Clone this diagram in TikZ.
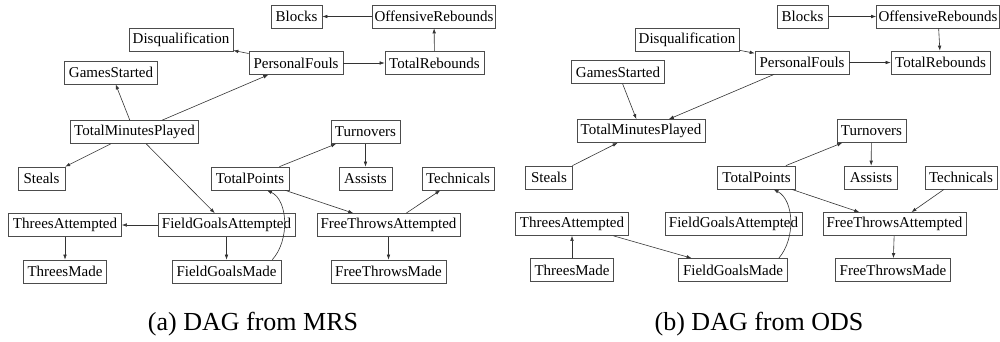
\documentclass[tikz,border=0pt]{standalone}
\usepackage{fontspec}
\setmainfont{Liberation Serif}
\newfontfamily\tnr{Liberation Serif}
\usetikzlibrary{arrows.meta}
\tikzset{
  box/.style={draw=black!70, line width=0.7pt, rectangle, minimum height=23pt, inner xsep=2pt, inner ysep=0pt, font=\tnr\fontsize{15}{17}\selectfont, text=black},
  edge/.style={draw=black!80, line width=0.6pt, -{Latex[length=5pt,width=3.6pt]}},
  captext/.style={font=\tnr\fontsize{26}{28}\selectfont, text=black, anchor=base, inner sep=0pt}
}
\begin{document}
\begin{tikzpicture}[x=1pt,y=-1pt]
\useasboundingbox (0,0) rectangle (1000,341);
% ---------- panel (a)
\node[box,minimum width=51pt]  (aBL)  at (296.5,16.5) {Blocks};
\node[box,minimum width=122pt] (aOR)  at (434,16.5) {OffensiveRebounds};
\node[box,minimum width=104pt] (aDQ)  at (181,40) {Disqualification};
\node[box,minimum width=94pt]  (aPF)  at (296,63) {PersonalFouls};
\node[box,minimum width=99pt]  (aTR)  at (434.5,63) {TotalRebounds};
\node[box,minimum width=93pt]  (aGS)  at (111,72.5) {GamesStarted};
\node[box,minimum width=128pt] (aTMP) at (134.5,132) {TotalMinutesPlayed};
\node[box,minimum width=69pt]  (aTO)  at (365.5,132) {Turnovers};
\node[box,minimum width=47pt]  (aST)  at (41.5,178.5) {Steals};
\node[box,minimum width=78pt]  (aTP)  at (250,178.5) {TotalPoints};
\node[box,minimum width=53pt]  (aAS)  at (365.5,178.5) {Assists};
\node[box,minimum width=72pt]  (aTE)  at (458,178.5) {Technicals};
\node[box,minimum width=113pt] (aTA)  at (65,225) {ThreesAttempted};
\node[box,minimum width=137pt] (aFGA) at (226.5,225) {FieldGoalsAttempted};
\node[box,minimum width=143pt] (aFTA) at (388.5,225) {FreeThrowsAttempted};
\node[box,minimum width=83pt]  (aTM)  at (65,271.5) {ThreesMade};
\node[box,minimum width=109pt] (aFGM) at (226.5,271.5) {FieldGoalsMade};
\node[box,minimum width=115pt] (aFTM) at (388.5,271.5) {FreeThrowsMade};

\draw[edge] (aOR) -- (aBL);
\draw[edge] (aTR) -- (aOR);
\draw[edge] (aPF) -- (aDQ);
\draw[edge] (aPF) -- (aTR);
\draw[edge] (aTMP) -- (aGS);
\draw[edge] (aTMP) -- (aPF);
\draw[edge] (aTMP) -- (aST);
\draw[edge] (aTMP) -- (aFGA);
\draw[edge] (aTP) -- (aTO);
\draw[edge] (aTO) -- (aAS);
\draw[edge] (aTP) -- (aFTA);
\draw[edge] (aFTA) -- (aTE);
\draw[edge] (aFGA) -- (aTA);
\draw[edge] (aTA) -- (aTM);
\draw[edge] (aFGA) -- (aFGM);
\draw[edge] (aFTA) -- (aFTM);
\draw[edge] ([xshift=-9pt]aFGM.north east) .. controls (290,240) and (288,200) .. ([xshift=17pt]aTP.south);

% ---------- panel (b)
\node[box,minimum width=51pt]  (bBL)  at (802.5,16.5) {Blocks};
\node[box,minimum width=122pt] (bOR)  at (938,16.5) {OffensiveRebounds};
\node[box,minimum width=104pt] (bDQ)  at (687,40) {Disqualification};
\node[box,minimum width=94pt]  (bPF)  at (802,62.5) {PersonalFouls};
\node[box,minimum width=99pt]  (bTR)  at (940.5,62.5) {TotalRebounds};
\node[box,minimum width=93pt]  (bGS)  at (618,72) {GamesStarted};
\node[box,minimum width=128pt] (bTMP) at (641,131) {TotalMinutesPlayed};
\node[box,minimum width=69pt]  (bTO)  at (871.5,131) {Turnovers};
\node[box,minimum width=47pt]  (bST)  at (549,177.5) {Steals};
\node[box,minimum width=78pt]  (bTP)  at (756.5,177.5) {TotalPoints};
\node[box,minimum width=53pt]  (bAS)  at (871,177.5) {Assists};
\node[box,minimum width=72pt]  (bTE)  at (961,177.5) {Technicals};
\node[box,minimum width=113pt] (bTA)  at (572,224) {ThreesAttempted};
\node[box,minimum width=137pt] (bFGA) at (733.5,224) {FieldGoalsAttempted};
\node[box,minimum width=143pt] (bFTA) at (894.5,224) {FreeThrowsAttempted};
\node[box,minimum width=83pt]  (bTM)  at (572,270) {ThreesMade};
\node[box,minimum width=109pt] (bFGM) at (733,270) {FieldGoalsMade};
\node[box,minimum width=115pt] (bFTM) at (893,270) {FreeThrowsMade};

\draw[edge] (bBL) -- (bOR);
\draw[edge] (bOR) -- (bTR);
\draw[edge] (bDQ) -- (bPF);
\draw[edge] (bPF) -- (bTR);
\draw[edge] (bGS) -- (bTMP);
\draw[edge] (bPF) -- (bTMP);
\draw[edge] (bST) -- (bTMP);
\draw[edge] (bTP) -- (bTO);
\draw[edge] (bTO) -- (bAS);
\draw[edge] (bTP) -- (bFTA);
\draw[edge] (bTE) -- (bFTA);
\draw[edge] (bTM) -- (bTA);
\draw[edge] (bTA) -- (bFGM);
\draw[edge] (bFTA) -- (bFTM);
\draw[edge] ([xshift=-9pt]bFGM.north east) .. controls (796,238) and (794,200) .. ([xshift=17pt]bTP.south);

% ---------- captions
\node[captext] (capA) at (253,330) {(a) DAG from MRS};
\node[captext] (capB) at (759,330) {(b) DAG from ODS};
\end{tikzpicture}
\end{document}
